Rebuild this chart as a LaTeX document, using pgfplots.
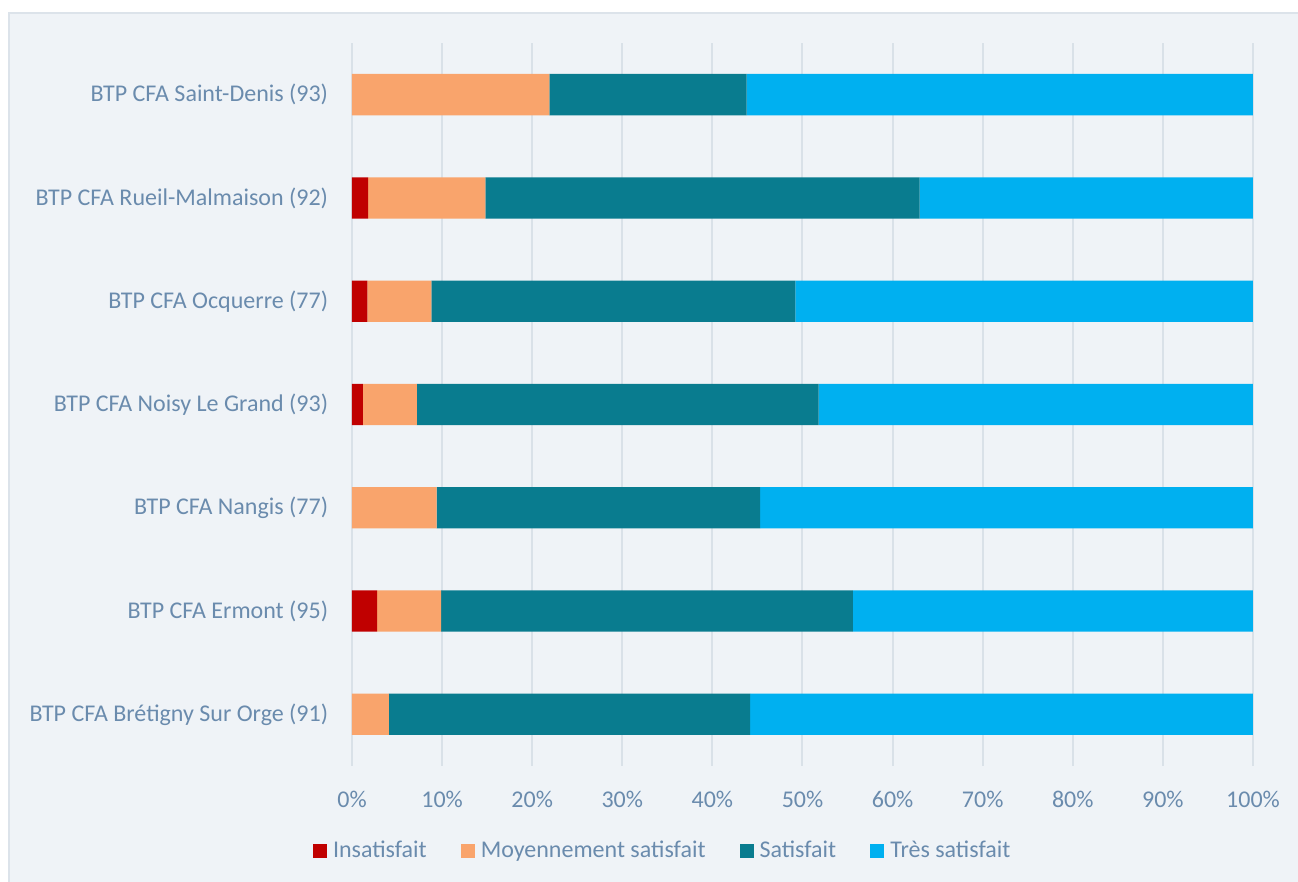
\documentclass[border=0pt]{standalone}
\usepackage{fontspec}
\setmainfont{Carlito}
\usepackage{pgfplots}
\usepackage{pgfplotstable}
\pgfplotsset{compat=1.18}

\definecolor{insat}{HTML}{C00000}
\definecolor{moyen}{HTML}{F9A46C}
\definecolor{satis}{HTML}{097C8F}
\definecolor{tres}{HTML}{00B0F0}
\definecolor{bgc}{HTML}{EFF3F7}
\definecolor{boxc}{HTML}{DCE3EA}
\definecolor{gridc}{HTML}{D9E1E8}
\definecolor{labc}{HTML}{6A8BAD}

% rows from bottom (Brétigny) to top (Saint-Denis)
\pgfplotstableread{
y ins moy sat tres
0 0 4.1 40.1 55.8
1 2.8 7.1 45.7 44.4
2 0 9.4 35.9 54.7
3 1.2 6.0 44.6 48.2
4 1.7 7.1 40.4 50.8
5 1.8 13.0 48.2 37.0
6 0 21.9 21.9 56.2
}\data

\begin{document}
\begin{tikzpicture}
\path[use as bounding box] (-176pt,-58pt) rectangle (473pt,383pt);
\fill[bgc] (-171.5pt,-70pt) rectangle (480pt,376.5pt);
\draw[boxc, line width=1pt] (-171.5pt,-70pt) -- (-171.5pt,376.5pt) -- (480pt,376.5pt);
\begin{axis}[
  xbar stacked,
  scale only axis,
  width=450.5pt,
  height=361.5pt,
  bar width=20.65pt,
  xmin=0, xmax=100,
  ymin=-0.5, ymax=6.5,
  ytick={0,...,6},
  yticklabels={BTP CFA Brétigny Sur Orge (91),BTP CFA Ermont (95),BTP CFA Nangis (77),BTP CFA Noisy Le Grand (93),BTP CFA Ocquerre (77),BTP CFA Rueil-Malmaison (92),BTP CFA Saint-Denis (93)},
  xtick={0,10,...,100},
  xticklabel={\pgfmathprintnumber{\tick}\%},
  /pgf/number format/assume math mode=true,
  xmajorgrids,
  major grid style={gridc, line width=1pt},
  axis line style={draw=none},
  tick style={draw=none},
  major tick length=0pt,
  tick label style={font=\fontsize{12}{14}\selectfont, text=labc},
  xticklabel style={anchor=center, inner sep=0pt, yshift=-16.5pt},
  yticklabel style={anchor=east, inner sep=0pt, xshift=-11.75pt},
  legend columns=4,
  legend cell align=left,
  legend style={at={(0.346,-0.1176)}, anchor=center, draw=none, fill=none,
    font=\fontsize{12}{14}\selectfont, text=labc,
    /tikz/every odd column/.append style={column sep=1pt},
    /tikz/every even column/.append style={column sep=15pt}},
  every axis plot post/.append style={
    legend image code/.code={\fill[##1] (0pt,-3.5pt) rectangle (7pt,3.5pt);}},
]
\addplot[fill=insat, draw=none] table[x=ins, y=y] {\data};
\addplot[fill=moyen, draw=none] table[x=moy, y=y] {\data};
\addplot[fill=satis, draw=none] table[x=sat, y=y] {\data};
\addplot[fill=tres, draw=none] table[x=tres, y=y] {\data};
\legend{Insatisfait, Moyennement satisfait, Satisfait, Très satisfait}
\end{axis}
\end{tikzpicture}
\end{document}
